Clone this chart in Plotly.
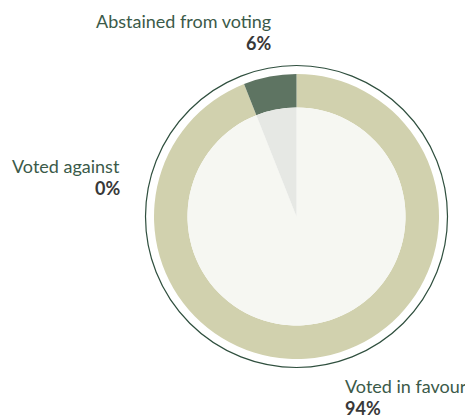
import plotly.graph_objects as go

labels = ["Voted in favour", "Voted against", "Abstained from voting"]
values = [94, 0, 6]
ring_colors = ["#d1d1ae", "#5e7462", "#5e7462"]
inner_colors = ["#f6f7f2", "#e6e8e4", "#e6e8e4"]

W, H = 465, 416
cx, cy = 296.5, 216.5
R_out, R_in, R_border = 142.5, 109, 151

def px(x):
    return x / W

def py(y):
    return 1 - y / H

fig = go.Figure()
fig.add_trace(go.Pie(
    labels=labels, values=values, sort=False, direction="clockwise", rotation=0,
    hole=R_in / R_out, marker=dict(colors=ring_colors, line=dict(width=0)),
    textinfo="none", hoverinfo="label+percent", showlegend=False,
    domain=dict(x=[px(cx - R_out), px(cx + R_out)], y=[py(cy + R_out), py(cy - R_out)]),
))
fig.add_trace(go.Pie(
    labels=labels, values=values, sort=False, direction="clockwise", rotation=0,
    marker=dict(colors=inner_colors, line=dict(width=0)),
    textinfo="none", hoverinfo="label+percent", showlegend=False,
    domain=dict(x=[px(cx - R_in), px(cx + R_in)], y=[py(cy + R_in), py(cy - R_in)]),
))

fig.add_shape(type="circle", xref="paper", yref="paper",
              x0=px(cx - R_border), x1=px(cx + R_border),
              y0=py(cy + R_border), y1=py(cy - R_border),
              line=dict(color="#2f4f3e", width=1.2), layer="below")

label_pos = {
    # name: (x px, baseline y px of name, anchor)
    "Abstained from voting": (273, 28, "right"),
    "Voted against": (122, 173, "right"),
    "Voted in favour": (343, 393, "left"),
}
for lab, val in zip(labels, values):
    x, yb, anc = label_pos[lab]
    fig.add_annotation(x=px(x), y=py(yb + 6), xref="paper", yref="paper",
                       text=lab, showarrow=False, xanchor=anc, yanchor="bottom",
                       font=dict(family="Lato", size=18, color="#3b5a49"))
    fig.add_annotation(x=px(x), y=py(yb + 28), xref="paper", yref="paper",
                       text=f"<b>{val}%</b>", showarrow=False, xanchor=anc, yanchor="bottom",
                       font=dict(family="Lato", size=18, color="#383838"))

fig.update_layout(width=W, height=H, margin=dict(l=0, r=0, t=0, b=0),
                  paper_bgcolor="white", plot_bgcolor="white")
fig.write_html("out.html")
